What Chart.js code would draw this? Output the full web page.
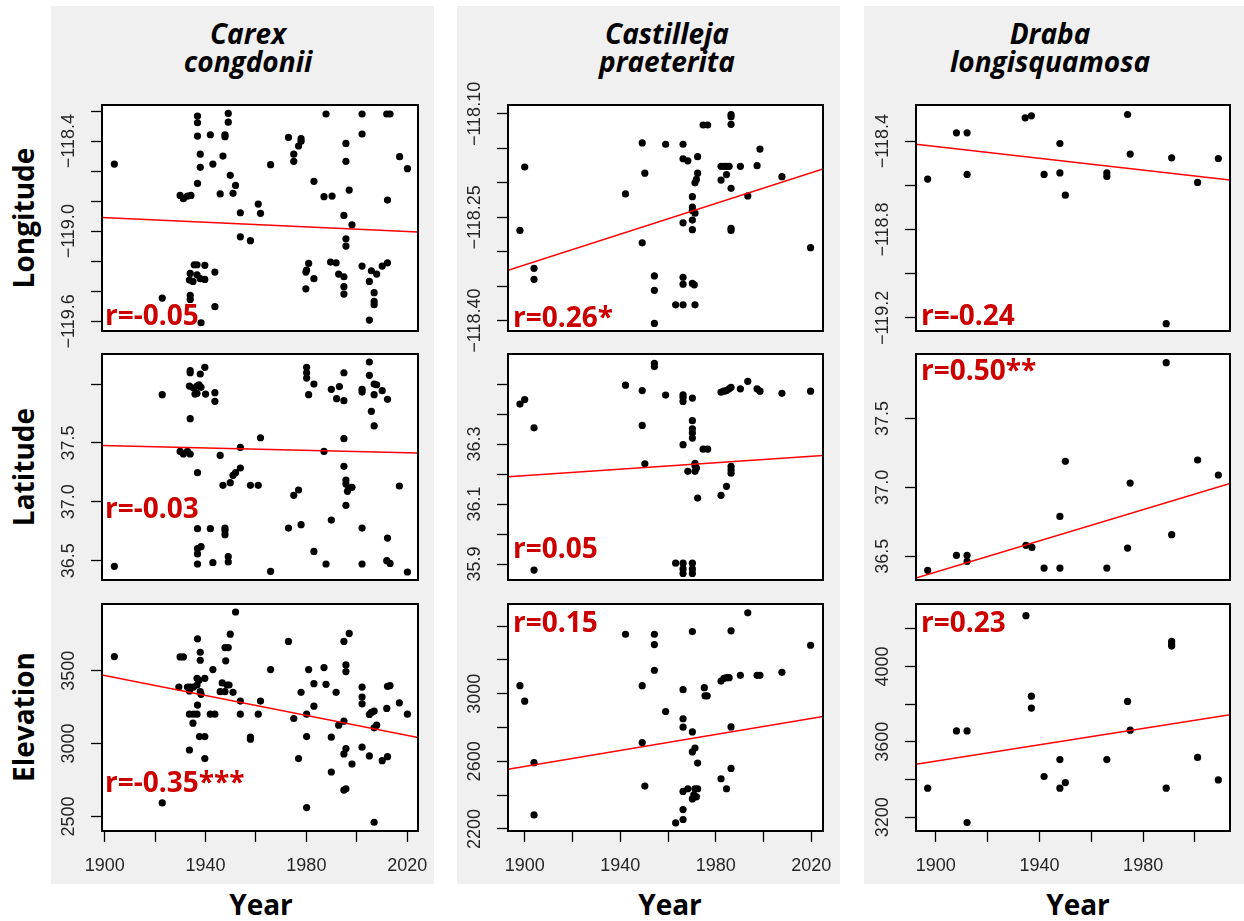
<!DOCTYPE html>
<html><head><meta charset="utf-8">
<script src="https://cdn.jsdelivr.net/npm/chart.js@4.4.1/dist/chart.umd.min.js"></script>
<style>
html,body{margin:0;padding:0;background:#fff;}
body{width:1244px;height:921px;position:relative;overflow:hidden;font-family:'Open Sans',sans-serif;}
.bg{position:absolute;background:#f0f0f0;}
.t{position:absolute;font-weight:700;color:#000;white-space:nowrap;line-height:1;text-align:center;}
canvas{position:absolute;}
</style></head><body>
<script>
// ---------------- DATA ----------------
const species = ['Carex', 'congdonii', 'Castilleja', 'praeterita', 'Draba', 'longisquamosa'];
const rowNames = ['Longitude', 'Latitude', 'Elevation'];
const xTitle = 'Year';
const yearTicksA = [1900, 1920, 1940, 1960, 1980, 2000, 2020];
const yearTicksB = [1900, 1920, 1940, 1960, 1980, 2000];
const yearLabels = [1900, 1940, 1980, 2020];

// Carex congdonii
const carexLonYear = [1903.8,1936.8,1936.8,1936.8,1937.9,1937.9,1936.8,1941.9,1942.9,1946.9,1949.0,1949.0,1947.7,1947.7,1949.8,1951.9,1950.9,1945.8,1929.9,1931.2,1932.8,1934.2,1953.8,1953.8,1957.8,1960.9,1961.8,1965.8,1972.9,1975.0,1975.0,1976.9,1977.9,1977.9,1983.0,1987.8,1987.0,1990.2,1995.7,1995.7,1997.0,1994.9,1998.1,1995.7,1995.7,2002.1,2002.1,2012.2,2011.9,2013.2,2017.0,2020.1,1933.9,1935.5,1936.6,1939.7,1933.6,1935.0,1936.6,1937.9,1939.7,1943.7,1933.9,1933.9,1922.8,1943.7,1938.2,1980.9,1980.1,1979.8,1983.0,1979.8,1989.6,1991.8,1992.8,1994.9,1994.9,1994.9,2002.1,2005.0,2005.8,2007.9,2006.9,2006.9,2006.9,2005.0,2010.1,2012.2];
const carexLon = [-118.553,-118.234,-118.278,-118.367,-118.487,-118.575,-118.682,-118.358,-118.553,-118.500,-118.216,-118.274,-118.358,-118.371,-118.628,-118.695,-118.748,-118.752,-118.762,-118.784,-118.766,-118.762,-118.877,-119.037,-119.063,-118.819,-118.881,-118.557,-118.376,-118.487,-118.535,-118.433,-118.384,-118.402,-118.668,-118.220,-118.770,-118.766,-118.416,-118.535,-118.726,-118.895,-118.957,-119.050,-119.099,-118.220,-118.353,-118.793,-118.220,-118.220,-118.504,-118.584,-119.281,-119.223,-119.223,-119.227,-119.325,-119.334,-119.290,-119.316,-119.321,-119.272,-119.427,-119.454,-119.445,-119.502,-119.609,-119.214,-119.258,-119.272,-119.316,-119.383,-119.205,-119.210,-119.285,-119.303,-119.369,-119.418,-119.232,-119.334,-119.263,-119.285,-119.409,-119.467,-119.489,-119.591,-119.232,-119.210];
const carexLatYear = [1903.8,1922.8,1933.9,1933.9,1933.6,1935.2,1936.6,1937.4,1935.8,1936.6,1937.9,1938.2,1939.7,1940.0,1943.7,1943.7,1933.9,1929.9,1931.2,1932.8,1933.9,1936.8,1936.8,1936.8,1938.2,1936.8,1936.8,1941.9,1942.9,1947.7,1947.7,1947.7,1949.0,1949.0,1945.8,1946.9,1949.8,1950.9,1951.9,1953.8,1953.8,1957.8,1960.9,1961.8,1965.8,1980.1,1980.1,1980.1,1980.9,1983.0,1972.9,1975.0,1976.9,1977.9,1983.0,1987.0,1987.8,1989.9,1989.9,1992.0,1993.1,1994.9,1994.9,1994.9,1994.9,1995.7,1995.7,1996.3,1996.8,1998.1,1995.7,2002.1,2002.1,2002.1,2002.1,2005.0,2005.0,2005.8,2006.9,2006.9,2007.9,2006.9,2010.1,2012.2,2012.2,2011.9,2013.2,2016.9,2020.1];
const carexLat = [36.452,37.910,38.096,38.113,37.983,37.966,37.983,37.994,37.915,37.921,38.085,37.972,38.142,37.915,37.927,37.853,37.706,37.428,37.406,37.428,37.406,37.247,36.772,36.602,36.619,36.557,36.472,36.772,36.483,36.777,36.755,36.721,36.534,36.489,37.394,37.140,37.162,37.225,37.247,37.287,37.462,37.140,37.140,37.544,36.409,38.142,38.096,38.051,37.910,38.000,36.777,37.055,37.100,36.806,36.579,37.428,36.472,36.845,37.955,37.876,37.978,38.096,37.859,37.536,37.301,37.185,37.151,37.089,37.117,37.123,36.970,37.955,37.932,36.777,36.472,38.187,38.074,37.768,37.910,38.000,37.994,37.644,37.944,37.870,36.692,36.500,36.477,37.134,36.404];
const carexElevYear = [1903.8,1922.8,1929.9,1931.2,1929.4,1932.8,1933.9,1935.2,1936.6,1933.6,1937.9,1938.2,1936.8,1937.9,1937.9,1936.6,1937.4,1939.7,1936.8,1933.6,1935.2,1936.6,1935.0,1937.6,1939.7,1933.6,1939.7,1941.9,1943.7,1942.9,1946.6,1945.8,1948.5,1947.7,1949.3,1948.0,1947.7,1949.0,1949.8,1950.9,1951.9,1953.8,1953.8,1957.8,1957.8,1960.9,1961.8,1965.8,1972.9,1975.0,1976.9,1977.9,1980.1,1980.1,1980.1,1980.9,1983.0,1983.0,1987.0,1987.8,1989.9,1989.9,1991.8,1992.8,1994.9,1994.9,1994.9,1994.9,1995.7,1995.7,1995.7,1995.7,1997.0,1998.1,2002.1,2002.1,2002.1,2002.1,2005.0,2005.0,2005.8,2006.9,2006.9,2007.9,2006.9,2010.1,2011.9,2012.2,2012.2,2013.2,2016.9,2020.1];
const carexElev = [3597,2593,3595,3595,3388,3388,3388,3388,3402,3361,3356,3338,3719,3627,3572,3448,3434,3448,3264,3202,3202,3202,3140,3048,3048,2956,2897,3202,3202,3508,3416,3356,3402,3356,3402,3568,3659,3659,3751,3352,3903,3292,3202,3044,3030,3202,3292,3508,3701,3172,2897,3352,3202,3048,2561,3508,3411,3257,3522,3407,3044,2805,3352,3126,3701,3154,2929,2681,3540,3494,2966,2690,3756,2860,3388,3319,3273,2975,3200,2915,3214,3223,3108,3126,2460,2883,3241,2910,3393,3398,3280,3202];

// Castilleja praeterita
const castLonYear = [1898.0,1900.0,1903.9,1903.9,1942.2,1949.2,1950.3,1949.2,1954.3,1954.3,1954.3,1959.0,1963.2,1966.3,1966.3,1968.3,1966.3,1966.3,1966.3,1966.3,1970.2,1970.2,1970.2,1970.2,1970.2,1971.3,1971.3,1971.9,1972.4,1972.4,1970.2,1971.0,1971.3,1974.7,1976.6,1982.2,1983.4,1984.5,1985.6,1982.2,1984.5,1986.4,1986.4,1986.4,1986.4,1986.4,1986.4,1990.3,1993.4,1997.3,1998.5,2007.7,2019.7];
const castLon = [-118.269,-118.177,-118.324,-118.340,-118.216,-118.142,-118.186,-118.287,-118.335,-118.356,-118.404,-118.144,-118.377,-118.144,-118.165,-118.168,-118.258,-118.337,-118.347,-118.377,-118.220,-118.235,-118.240,-118.254,-118.268,-118.244,-118.200,-118.195,-118.162,-118.186,-118.346,-118.348,-118.377,-118.116,-118.116,-118.176,-118.176,-118.176,-118.176,-118.196,-118.188,-118.101,-118.104,-118.115,-118.208,-118.266,-118.269,-118.176,-118.219,-118.175,-118.151,-118.191,-118.294];
const castLatYear = [1898.0,1900.0,1903.9,1903.9,1942.2,1949.2,1949.2,1950.3,1954.3,1954.3,1959.0,1963.2,1966.3,1966.3,1966.3,1966.3,1966.3,1966.3,1966.3,1968.3,1970.2,1970.2,1970.2,1970.2,1970.2,1970.2,1970.2,1970.2,1971.3,1971.3,1971.3,1971.9,1972.4,1974.7,1976.6,1982.2,1983.4,1984.5,1985.6,1986.4,1982.2,1984.5,1986.4,1986.4,1986.4,1990.3,1993.4,1997.3,1998.5,2007.7,2019.7];
const castLat = [36.433,36.448,36.354,35.880,36.496,36.478,36.362,36.234,36.569,36.558,36.463,35.903,36.464,36.456,36.442,36.298,35.903,35.884,35.869,36.209,36.453,36.378,36.351,36.337,36.320,35.903,35.884,35.869,36.236,36.228,36.209,36.220,36.120,36.283,36.283,36.473,36.476,36.478,36.484,36.489,36.129,36.159,36.226,36.214,36.203,36.484,36.509,36.484,36.476,36.469,36.476];
const castElevYear = [1898.0,1900.0,1903.9,1903.9,1942.2,1949.2,1949.2,1950.3,1954.3,1954.3,1954.3,1959.0,1963.2,1966.3,1966.3,1966.3,1966.3,1966.3,1966.3,1968.3,1970.2,1970.2,1970.2,1970.2,1970.8,1971.3,1971.3,1971.9,1972.4,1972.4,1975.2,1975.5,1976.4,1982.2,1983.4,1984.5,1985.6,1982.2,1984.5,1986.4,1986.4,1986.4,1990.3,1993.4,1997.3,1998.5,2007.7,2019.7];
const castElev = [3048,2956,2592,2283,3352,3048,2711,2454,3352,3291,3139,2895,2236,2256,2315,2422,2802,2852,3024,2438,3368,2774,2656,2378,2402,2679,2438,2390,2438,2590,3036,2988,2988,3075,3091,3095,3095,2497,2438,3372,2804,2558,3109,3479,3109,3109,3127,3287];

// Draba longisquamosa
const drabaYear = [1896.9,1908.0,1912.1,1912.1,1934.5,1936.9,1941.8,1947.9,1947.9,1950.0,1966.0,1966.0,1974.0,1975.0,1988.9,1991.0,2001.0,2009.0];
const drabaLon = [-118.572,-118.363,-118.363,-118.551,-118.295,-118.286,-118.551,-118.411,-118.544,-118.645,-118.544,-118.560,-118.280,-118.459,-119.226,-118.476,-118.587,-118.479];
const drabaLatYear = [1896.9,1908.0,1912.1,1912.1,1934.8,1937.1,1941.8,1947.9,1947.9,1950.0,1966.0,1974.0,1975.0,1988.9,1991.0,2001.0,2009.0];
const drabaLat = [36.397,36.506,36.506,36.462,36.579,36.564,36.414,36.414,36.789,37.189,36.414,36.559,37.031,37.906,36.656,37.199,37.090];
const drabaElevYear = [1896.9,1908.0,1912.1,1912.1,1934.8,1936.9,1936.9,1941.8,1947.9,1947.9,1950.0,1966.0,1974.0,1975.0,1988.9,1991.0,1991.0,1991.0,2001.0,2009.0];
const drabaElev = [3354,3658,3658,3172,4269,3842,3779,3416,3506,3354,3384,3506,3814,3662,3354,4133,4119,4108,3517,3398];

// regression lines: value at left and right edge of the year axis
const fitCarex = [[-118.908, -119.006], [37.479, 37.414], [3471, 3041]];
const fitCast = [[-118.327, -118.180], [36.191, 36.262], [2553, 2865]];
const fitDraba = [[-118.414, -118.576], [36.341, 37.029], [3481, 3743]];

const rText = [['r=-0.05', 'r=-0.03', 'r=-0.35***'], ['r=0.26*', 'r=0.05', 'r=0.15'], ['r=-0.24', 'r=0.50**', 'r=0.23']];

// axis ranges and ticks
const yearRange = [[1898.9, 2024.3], [1893.0, 2024.9], [1892.4, 2013.5]];
const yRange = [
  [[-119.664, -118.160], [36.336, 38.255], [2400, 3958]],
  [[-118.415, -118.087], [35.847, 36.600], [2188, 3531]],
  [[-119.259, -118.237], [36.327, 37.969], [3127, 4331]]
];
const yTicks = [
  [[-119.6,-119.4,-119.2,-119.0,-118.8,-118.6,-118.4,-118.2], [36.5,37.0,37.5,38.0], [2500,3000,3500]],
  [[-118.40,-118.35,-118.30,-118.25,-118.20,-118.15,-118.10], [35.9,36.0,36.1,36.2,36.3,36.4,36.5], [2200,2400,2600,2800,3000,3200,3400]],
  [[-119.2,-119.0,-118.8,-118.6,-118.4], [36.5,37.0,37.5], [3200,3400,3600,3800,4000,4200]]
];
const yTickLabels = [
  [[-118.4,-119.0,-119.6], [36.5,37.0,37.5], [2500,3000,3500]],
  [[-118.10,-118.25,-118.40], [35.9,36.1,36.3], [2200,2600,3000]],
  [[-118.4,-118.8,-119.2], [36.5,37.0,37.5], [3200,3600,4000]]
];
const yDecimals = [[1,1,0],[2,1,0],[1,1,0]];

// ---------------- LAYOUT ----------------
const colBox = [[102, 418], [508, 823], [916, 1230]];
const rowBox = [[105, 331], [354, 580], [604, 831]];
const bgBox = [[51, 434], [457, 840], [864, 1244]];
const titleX = [248, 667, 1050];
const yearX = [261, 670, 1078];
const rowMid = [218, 467, 717];
const rPos = [[[3,220],[3,164],[3,188]], [[5,222],[5,204],[5,28]], [[5,220],[5,26],[5,28]]];

const TICKFONT = {family: '"Liberation Sans", Arial, sans-serif', size: 18};
const TICKCOLOR = '#262626';

function el(cls, txt, css) {
  const d = document.createElement('div');
  d.className = cls; d.textContent = txt;
  Object.assign(d.style, css);
  document.body.appendChild(d);
  return d;
}
for (let c = 0; c < 3; c++) {
  el('bg', '', {left: bgBox[c][0] + 'px', top: '6px', width: (bgBox[c][1] - bgBox[c][0]) + 'px', height: '878px'});
}
for (let c = 0; c < 3; c++) {
  el('t', species[2*c], {left: (titleX[c]-200)+'px', top: '19px', width: '400px', fontSize: '28px', fontStyle: 'italic'});
  el('t', species[2*c+1], {left: (titleX[c]-200)+'px', top: '47px', width: '400px', fontSize: '28px', fontStyle: 'italic'});
  el('t', xTitle, {left: (yearX[c]-100)+'px', top: '890px', width: '200px', fontSize: '28px'});
}
for (let r = 0; r < 3; r++) {
  el('t', rowNames[r], {left: (23-150)+'px', top: (rowMid[r]-14)+'px', width: '300px', height: '28px', fontSize: '28px', transform: 'rotate(-90deg)', transformOrigin: '50% 50%'});
}

const meas = document.createElement('canvas').getContext('2d');
meas.font = TICKFONT.size + 'px ' + TICKFONT.family;

function fmt(v, d) {
  const s = Math.abs(v).toFixed(d);
  return (v < 0 ? '\u2212' : '') + s;
}

const deco = {
  id: 'deco',
  beforeDraw(chart) {
    const a = chart.chartArea, ctx = chart.ctx;
    ctx.save(); ctx.fillStyle = '#fff';
    ctx.fillRect(a.left, a.top, a.right - a.left, a.bottom - a.top);
    ctx.restore();
  },
  afterDraw(chart, args, opts) {
    const a = chart.chartArea, ctx = chart.ctx;
    ctx.save();
    ctx.strokeStyle = '#000'; ctx.lineWidth = 2;
    ctx.strokeRect(a.left, a.top, a.right - a.left, a.bottom - a.top);
    ctx.fillStyle = '#cd0000';
    ctx.font = 'bold 28px "Open Sans", sans-serif';
    ctx.textBaseline = 'alphabetic'; ctx.textAlign = 'left';
    ctx.fillText(opts.text, a.left + opts.dx, a.top + opts.dy);
    ctx.restore();
  }
};

const allX = [[carexLonYear, carexLatYear, carexElevYear], [castLonYear, castLatYear, castElevYear], [drabaYear, drabaLatYear, drabaElevYear]];
const allY = [[carexLon, carexLat, carexElev], [castLon, castLat, castElev], [drabaLon, drabaLat, drabaElev]];
const allFit = [fitCarex, fitCast, fitDraba];

const PADL = 100, PADT = 40, PADR = 45;
for (let c = 0; c < 3; c++) {
  for (let r = 0; r < 3; r++) {
    const bw = colBox[c][1] - colBox[c][0];
    const bh = rowBox[r][1] - rowBox[r][0];
    const last = r === 2;
    const padB = last ? 10 : 30;
    const xAxisH = last ? 50 : 0;
    const cv = document.createElement('canvas');
    const W = PADL + bw + PADR, H = PADT + bh + xAxisH + padB;
    cv.width = W; cv.height = H;
    cv.style.left = (colBox[c][0] - PADL) + 'px';
    cv.style.top = (rowBox[r][0] - PADT) + 'px';
    cv.style.width = W + 'px'; cv.style.height = H + 'px';
    document.body.appendChild(cv);

    const xs = allX[c][r], ys = allY[c][r];
    const pts = xs.map((x, i) => ({x: x, y: ys[i]}));
    const xr = yearRange[c];
    const fit = allFit[c][r];
    const labs = yTickLabels[c][r];
    const dec = yDecimals[c][r];
    const labelStrs = labs.map(v => fmt(v, dec));
    let widest = 0;
    labelStrs.forEach(s => { widest = Math.max(widest, meas.measureText(s).width); });
    const yPad = 22 - widest / 2;
    const xt = c === 2 ? yearTicksB : yearTicksA;
    const yt = yTicks[c][r];

    new Chart(cv, {
      type: 'scatter',
      data: {
        datasets: [
          {type: 'line', data: [{x: xr[0], y: fit[0]}, {x: xr[1], y: fit[1]}], borderColor: '#ff0000', borderWidth: 1.5, pointRadius: 0, fill: false, tension: 0},
          {data: pts, pointRadius: 3.6, pointBackgroundColor: '#000', pointBorderWidth: 0, pointBorderColor: '#000', clip: false}
        ]
      },
      options: {
        responsive: false, animation: false, devicePixelRatio: 1, events: [],
        layout: {padding: {left: 0, top: PADT, right: PADR, bottom: padB}},
        plugins: {legend: {display: false}, tooltip: {enabled: false}, title: {display: false},
          deco: {text: rText[c][r], dx: rPos[c][r][0], dy: rPos[c][r][1]}},
        scales: {
          x: {
            type: 'linear', position: 'bottom', display: last, min: xr[0], max: xr[1],
            afterBuildTicks: (s) => { s.ticks = xt.map(v => ({value: v})); },
            afterFit: (s) => { s.height = xAxisH; },
            border: {display: false},
            grid: {drawOnChartArea: false, drawTicks: true, tickLength: 11, tickColor: '#000', tickWidth: 1.3},
            ticks: {autoSkip: false, maxRotation: 0, minRotation: 0, padding: 13, color: TICKCOLOR, font: TICKFONT,
              callback: (v) => yearLabels.indexOf(Math.round(v)) >= 0 ? String(Math.round(v)) : ''}
          },
          y: {
            type: 'linear', position: 'left', min: yRange[c][r][0], max: yRange[c][r][1],
            afterBuildTicks: (s) => { s.ticks = yt.map(v => ({value: v})); },
            afterFit: (s) => { s.width = PADL; },
            border: {display: false},
            grid: {drawOnChartArea: false, drawTicks: true, tickLength: 11, tickColor: '#000', tickWidth: 1.3},
            ticks: {autoSkip: false, minRotation: 90, maxRotation: 90, crossAlign: 'center', padding: yPad, color: TICKCOLOR, font: TICKFONT,
              callback: (v) => { const k = labs.findIndex(l => Math.abs(l - v) < 1e-6 * Math.max(1, Math.abs(v))); return k >= 0 ? labelStrs[k] : ''; }}
          }
        }
      },
      plugins: [deco]
    });
  }
}
</script>
</body></html>
